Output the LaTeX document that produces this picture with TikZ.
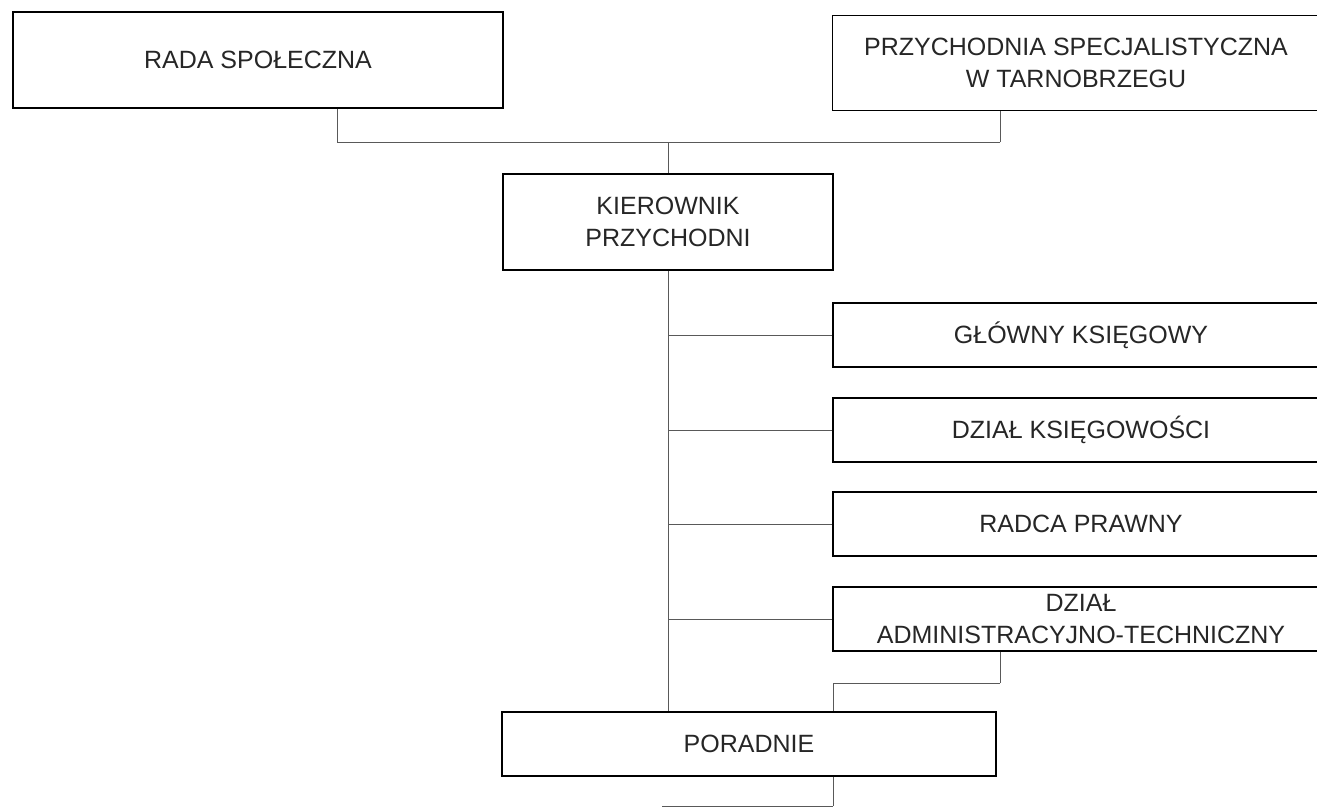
\documentclass[tikz,border=0pt]{standalone}
\usepackage{fontspec}
\setmainfont{Liberation Sans}
\begin{document}
\begin{tikzpicture}[x=1pt,y=-1pt,font=\fontsize{25}{32}\selectfont]
        \useasboundingbox (0,0) rectangle (1317,807);
        \begin{scope}[every node/.style={draw,line width=1.4pt,align=center,inner sep=0pt,text=black!85}]
            \node[minimum width=490pt,minimum height=96pt] (rada) at (258, 60) {RADA SPOŁECZNA};
            \node[minimum width=487pt,minimum height=95pt] (przy) at (1076, 63) {PRZYCHODNIA SPECJALISTYCZNA\\W TARNOBRZEGU};
            \node[minimum width=330pt,minimum height=96pt] (kier) at (668, 222) {KIEROWNIK\\PRZYCHODNI};
            \node[minimum width=496pt,minimum height=64pt] (glowny) at (1081, 335) {GŁÓWNY KSIĘGOWY};
            \node[minimum width=496pt,minimum height=64pt] (ksieg) at (1081, 430) {DZIAŁ KSIĘGOWOŚCI};
            \node[minimum width=496pt,minimum height=64pt] (radca) at (1081, 524) {RADCA PRAWNY};
            \node[minimum width=496pt,minimum height=64pt] (adm) at (1081, 619) {DZIAŁ\\ADMINISTRACYJNO-TECHNICZNY};
            \node[minimum width=494pt,minimum height=64pt] (por) at (749, 744) {PORADNIE};
        \end{scope}
        \coordinate (jl) at (337, 142);
        \coordinate (jc) at (668, 142);
        \coordinate (jr) at (1000, 142);
        \coordinate (ja) at (1000, 683);
        \coordinate (jb) at (833, 683);
        \coordinate (jd) at (833, 806);
        \coordinate (je) at (662, 806);
        \begin{scope}[every edge/.style={draw,black!65,line width=0.9pt}]
            \path
                (rada.south -| jl) edge (jl)
                (jl) edge (jr)
                (jr) edge (przy.south -| jr)
                (jc) edge (kier.north)
                (kier.south) edge (kier.south |- por.north)
                (kier.south |- glowny.west) edge (glowny.west)
                (kier.south |- ksieg.west) edge (ksieg.west)
                (kier.south |- radca.west) edge (radca.west)
                (kier.south |- adm.west) edge (adm.west)
                (adm.south -| ja) edge (ja)
                (ja) edge (jb)
                (jb) edge (jb |- por.north)
                (por.south -| jd) edge (jd)
                (jd) edge (je);
        \end{scope}
    \end{tikzpicture}
\end{document}
